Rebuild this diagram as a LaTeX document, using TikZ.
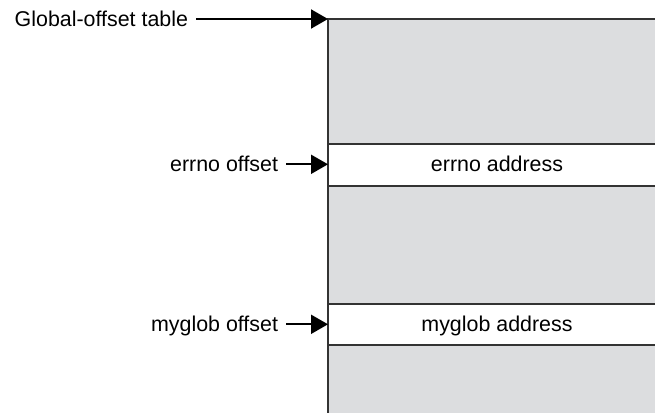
\documentclass[tikz,border=0pt]{standalone}
\usepackage{fontspec}
\setmainfont{Liberation Sans}
\usetikzlibrary{arrows.meta}
\definecolor{gotgray}{RGB}{220,221,223}
\tikzset{
  ptr/.style={draw=black, line width=1pt, -{Triangle[length=8.5pt,width=9.5pt]}},
  lbl/.style={font=\fontsize{10.7}{12.8}\selectfont, inner sep=0pt, outer xsep=4pt},
  rule/.style={draw=black!80, line width=1pt}
}
\begin{document}
\begin{tikzpicture}[x=0.5pt, y=-0.5pt]
    \useasboundingbox (0,0) rectangle (655,413);

    % Table body
    \fill[gotgray] (328,19) rectangle (660,413);

    % Entry slots (white)
    \fill[white] (328,144) rectangle (660,186);
    \fill[white] (328,304) rectangle (660,345);

    % Borders
    \draw[rule] (328,413) -- (328,19) -- (660,19);
    \foreach \y in {144,186,304,345} {
        \draw[rule] (328,\y) -- (660,\y);
    }

    % Table entries
    \node[lbl, anchor=base] (errnoaddr) at (497,171.7) {errno address};
    \node[lbl, anchor=base] (myglobaddr) at (497,331.7) {myglob address};

    % Slot points on the left edge
    \coordinate (gottop) at (328,19);
    \coordinate (errnoslot) at (328,164.3);
    \coordinate (myglobslot) at (328,324.3);

    % Labels
    \node[lbl, anchor=base east] (gotlbl) at (196,26.7) {Global-offset table};
    \node[lbl, anchor=base east] (errnolbl) at (286,171.7) {errno offset};
    \node[lbl, anchor=base east] (mygloblbl) at (286,331.7) {myglob offset};

    % Pointers
    \draw[ptr] (gotlbl.east |- gottop) -- (gottop);
    \draw[ptr] (errnolbl.east |- errnoslot) -- (errnoslot);
    \draw[ptr] (mygloblbl.east |- myglobslot) -- (myglobslot);
\end{tikzpicture}
\end{document}
